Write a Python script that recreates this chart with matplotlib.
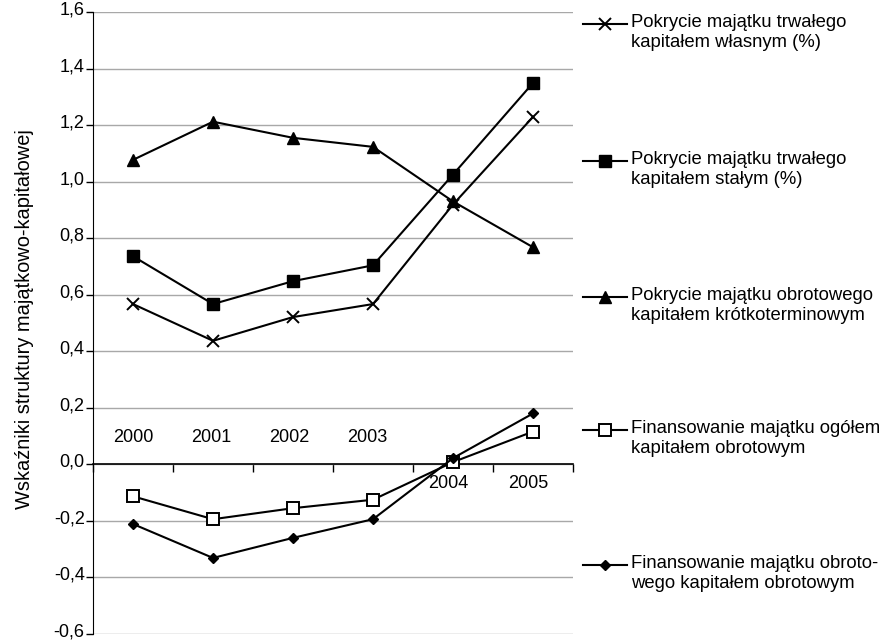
import matplotlib
matplotlib.use("Agg")
import matplotlib.pyplot as plt
from matplotlib.lines import Line2D
from matplotlib.ticker import FuncFormatter
from matplotlib.transforms import ScaledTranslation

plt.rcParams['font.family'] = ['Liberation Sans', 'DejaVu Sans']

years = ["2000", "2001", "2002", "2003", "2004", "2005"]

wlasny = [0.567, 0.437, 0.521, 0.567, 0.919, 1.229]
staly = [0.736, 0.567, 0.648, 0.704, 1.025, 1.349]
krotkoterm = [1.077, 1.212, 1.155, 1.123, 0.930, 0.768]
ogolem_obrot = [-0.113, -0.194, -0.155, -0.125, 0.008, 0.116]
obrot_obrot = [-0.211, -0.331, -0.260, -0.194, 0.022, 0.180]

labels = [
    "Pokrycie majątku trwałego\nkapitałem własnym (%)",
    "Pokrycie majątku trwałego\nkapitałem stałym (%)",
    "Pokrycie majątku obrotowego\nkapitałem krótkoterminowym",
    "Finansowanie majątku ogółem\nkapitałem obrotowym",
    "Finansowanie majątku obroto-\nwego kapitałem obrotowym",
]
y_label = "Wskaźniki struktury majątkowo-kapitałowej"

series = [wlasny, staly, krotkoterm, ogolem_obrot, obrot_obrot]
styles = [
    dict(marker='x', markersize=9, markeredgewidth=1.4, color='black'),
    dict(marker='s', markersize=8.5, color='black'),
    dict(marker='^', markersize=8.5, color='black'),
    dict(marker='s', markersize=8, markerfacecolor='white', markeredgewidth=1.4, color='black'),
    dict(marker='D', markersize=5.5, color='black'),
]

fig = plt.figure(figsize=(8.85, 6.4), dpi=100)
ax = fig.add_axes([93 / 885, 1 - 634 / 640, (573 - 93) / 885, (634 - 12) / 640])

x = list(range(len(years)))
for vals, st in zip(series, styles):
    ax.plot(x, vals, linewidth=1.5, clip_on=False, zorder=3, **st)

ax.set_xlim(-0.5, len(years) - 0.5)
ax.set_ylim(-0.6, 1.6)
yt = [round(-0.6 + 0.2 * i, 1) for i in range(12)]
ax.set_yticks(yt)
ax.yaxis.set_major_formatter(FuncFormatter(lambda v, p: f"{v:.1f}".replace('.', ',')))
ax.grid(axis='y', color='#a8a8a8', linewidth=1)
ax.set_axisbelow(True)

for s in ['top', 'right']:
    ax.spines[s].set_visible(False)
ax.spines['left'].set_color('black')
ax.spines['bottom'].set_position(('data', 0))
ax.spines['bottom'].set_color('black')
ax.spines['bottom'].set_linewidth(1.2)

ax.set_xticks([i - 0.5 for i in range(len(years) + 1)])
ax.set_xticklabels([''] * (len(years) + 1))
ax.tick_params(axis='x', direction='out', length=6, width=1, color='black')
ax.tick_params(axis='y', direction='out', length=5, width=1, color='black',
               labelsize=13, pad=1)

# value labels sit a touch above their gridlines
lift = ScaledTranslation(0, 4 / 100, fig.dpi_scale_trans)
for lbl in ax.get_yticklabels():
    lbl.set_transform(lbl.get_transform() + lift)

# category labels: early years above the axis line, later ones below it
for i, yr in enumerate(years):
    if i < 4:
        ax.annotate(yr, (i, 0), xytext=(-1.5 * i, 19.4), textcoords='offset points',
                    ha='center', va='center', fontsize=13)
    else:
        ax.annotate(yr, (i, 0), xytext=(-3.5, -13.7), textcoords='offset points',
                    ha='center', va='center', fontsize=13)

fig.text(25 / 885, 1 - 319 / 640, y_label, rotation=90, ha='center', va='center',
         fontsize=14.4)

# legend drawn entry by entry, marker aligned with the first text line
entry_y = [24, 161, 297, 430, 565]
for ypix, st, lab in zip(entry_y, styles, labels):
    yf = 1 - ypix / 640
    fig.add_artist(Line2D([583 / 885, 627 / 885], [yf, yf], transform=fig.transFigure,
                          color='black', linewidth=1.5))
    fig.add_artist(Line2D([605 / 885], [yf], transform=fig.transFigure,
                          linestyle='none', **st))
    fig.text(631 / 885, yf + 10 / 640, lab, ha='left', va='top', fontsize=13.3,
             linespacing=1.2)

fig.savefig("out.png", dpi=100)
